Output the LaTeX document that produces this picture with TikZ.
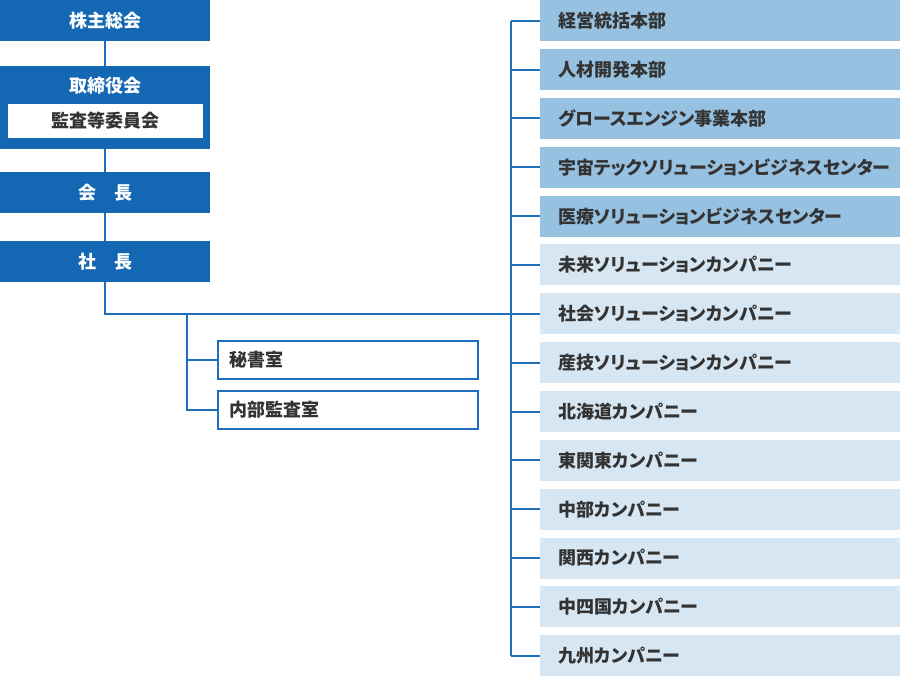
\documentclass[tikz,border=0pt]{standalone}
\usepackage{fontspec}
\setmainfont{Noto Sans CJK JP}[RawFeature=+palt]
\definecolor{dblue}{HTML}{1467B2}
\definecolor{mblue}{HTML}{96C1E1}
\definecolor{pblue}{HTML}{D6E7F3}
\definecolor{lineblue}{HTML}{1E6EBE}
\definecolor{txt}{HTML}{333333}
\tikzset{
  topbox/.style={fill=dblue, draw=none, text=white, font=\bfseries\fontsize{18}{20}\selectfont,
    minimum width=210pt, minimum height=41pt, inner sep=0pt, anchor=north west},
  whitebox/.style={fill=white, draw=none, text=txt, font=\bfseries\fontsize{18}{20}\selectfont,
    minimum width=195pt, minimum height=34pt, inner sep=0pt},
  staffbox/.style={fill=white, draw=lineblue, line width=2pt, text=txt, font=\bfseries\fontsize{18}{20}\selectfont,
    text width=238pt, align=left, inner xsep=11pt, minimum height=38pt, inner ysep=0pt, anchor=north west},
  divbox/.style={draw=none, text=txt, font=\bfseries\fontsize{18}{20}\selectfont,
    text width=324pt, align=left, inner xsep=18pt, minimum height=41pt, inner ysep=0pt, anchor=north west},
  conn/.style={draw=lineblue, line width=2pt}
}
\begin{document}
\begin{tikzpicture}[x=1pt, y=-1pt]
\useasboundingbox (0,0) rectangle (900,676);
% left column
\node[topbox] (kabu) at (0,0) {株主総会};
\node[topbox, minimum height=83pt] (board) at (0,66) {};
\node[text=white, font=\bfseries\fontsize{18}{20}\selectfont, inner sep=0pt] (boardlbl) at (105,86) {取締役会};
\node[whitebox] (kansa) at (105,121) {監査等委員会};
\node[topbox] (kaicho) at (0,172) {会\hspace{1em}長};
\node[topbox] (shacho) at (0,241) {社\hspace{1em}長};
\draw[conn] (kabu.south) -- (board.north);
\draw[conn] (board.south) -- (kaicho.north);
\draw[conn] (kaicho.south) -- (shacho.north);
% staff
\node[staffbox] (hisho) at (217,340) {秘書室};
\node[staffbox] (naibu) at (217,390) {内部監査室};
\coordinate (rb) at (511,314);
\coordinate (lb) at (187,314);
\draw[conn] (shacho.south) |- (rb);
\draw[conn] (lb) |- (hisho.west);
\draw[conn] (lb) |- (naibu.west);
% divisions
\foreach \i/\lab/\col in {0/経営統括本部/mblue, 1/人材開発本部/mblue, 2/グロースエンジン事業本部/mblue,
  3/宇宙テックソリューションビジネスセンター/mblue, 4/医療ソリューションビジネスセンター/mblue,
  5/未来ソリューションカンパニー/pblue, 6/社会ソリューションカンパニー/pblue,
  7/産技ソリューションカンパニー/pblue, 8/北海道カンパニー/pblue, 9/東関東カンパニー/pblue,
  10/中部カンパニー/pblue, 11/関西カンパニー/pblue, 12/中四国カンパニー/pblue, 13/九州カンパニー/pblue}{
  \node[divbox, fill=\col] (d\i) at (540,{\i*48.85}) {\lab};
  \draw[conn] (d\i.west) -- (d\i.west -| rb);
}
\draw[conn] (d0.west -| rb) -- (d13.west -| rb);
\end{tikzpicture}
\end{document}
